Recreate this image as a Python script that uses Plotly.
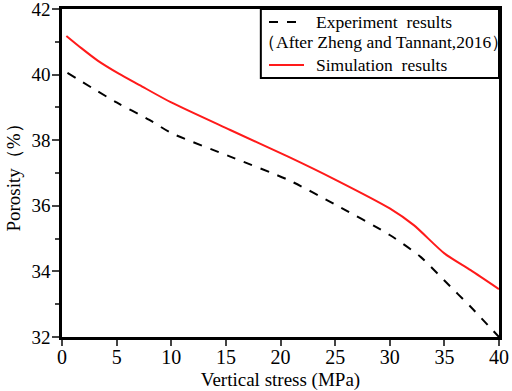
import plotly.graph_objects as go

# Experiment results (After Zheng and Tannant, 2016)
exp_stress = [0.5, 5, 8, 10, 15.4, 20.7, 25, 30, 32.8, 35, 37.4, 40]
exp_porosity = [40.05, 39.15, 38.62, 38.22, 37.5, 36.79, 36.04, 35.11, 34.45, 33.72, 32.92, 32.0]

# Simulation results
sim_stress = [0.4, 1.8, 3.3, 5.2, 7.1, 10, 15.4, 20.7, 25, 30, 32.2, 35, 37.4, 40]
sim_porosity = [41.18, 40.8, 40.42, 40.03, 39.68, 39.15, 38.31, 37.5, 36.8, 35.92, 35.41, 34.55, 34.04, 33.46]

x_ticks = [0, 5, 10, 15, 20, 25, 30, 35, 40]
y_ticks = [32, 34, 36, 38, 40, 42]

FONT = "Liberation Serif"

fig = go.Figure()
fig.add_trace(go.Scatter(x=exp_stress, y=exp_porosity, mode="lines",
                         line=dict(color="black", width=2, dash="dash", shape="spline", smoothing=0.7),
                         name="Experiment results", showlegend=False))
fig.add_trace(go.Scatter(x=sim_stress, y=sim_porosity, mode="lines",
                         line=dict(color="#ff1a1a", width=2, shape="spline", smoothing=0.7),
                         name="Simulation results", showlegend=False))

fig.update_layout(
    width=512, height=391,
    margin=dict(l=62, r=13, t=9, b=54),
    paper_bgcolor="white", plot_bgcolor="white",
    font=dict(family=FONT, size=19, color="black"),
    showlegend=False,
)
fig.update_xaxes(range=[0, 40], tickvals=x_ticks, ticks="outside", ticklen=6, tickwidth=2,
                 showline=True, linewidth=2.5, linecolor="black", mirror=True,
                 showgrid=False, zeroline=False, automargin=False,
                 ticklabelstandoff=-6, ticklabeloverflow="allow",
                 title=dict(text="Vertical stress (MPa)", font=dict(family=FONT, size=19), standoff=6),
                 tickfont=dict(family=FONT, size=20))
fig.update_yaxes(range=[32, 42], tickvals=y_ticks, ticks="outside", ticklen=7, tickwidth=2,
                 minor=dict(dtick=1, ticks="outside", ticklen=4, tickwidth=2, showgrid=False),
                 showline=True, linewidth=2.5, linecolor="black", mirror=True,
                 showgrid=False, zeroline=False, automargin=False,
                 ticklabelstandoff=-2, ticklabeloverflow="allow",
                 title=dict(text="Porosity（%）", font=dict(family=FONT, size=19), standoff=6),
                 tickfont=dict(family=FONT, size=19))

# Custom legend box
fig.add_shape(type="rect", xref="x domain", yref="y domain", x0=0.455, x1=1.0, y0=0.79, y1=1.0,
              line=dict(color="black", width=2), fillcolor="white", layer="above")
fig.add_shape(type="line", xref="paper", yref="paper", x0=(269-62)/437, x1=(304-62)/437,
              y0=1-(22-9)/328, y1=1-(22-9)/328, line=dict(color="black", width=2, dash="dash"))
fig.add_shape(type="line", xref="paper", yref="paper", x0=(269-62)/437, x1=(304-62)/437,
              y0=1-(65-9)/328, y1=1-(65-9)/328, line=dict(color="#ff1a1a", width=2))
fig.add_annotation(xref="paper", yref="paper", x=(314-62)/437, y=1-(22-9)/328, xanchor="left",
                   yanchor="middle", showarrow=False, text="Experiment  results",
                   font=dict(family=FONT, size=17.5))
fig.add_annotation(xref="paper", yref="paper", x=(256-62)/437, y=1-(42-9)/328, xanchor="left",
                   yanchor="middle", showarrow=False, text="（After Zheng and Tannant,2016）",
                   font=dict(family=FONT, size=17.5))
fig.add_annotation(xref="paper", yref="paper", x=(314-62)/437, y=1-(65-9)/328, xanchor="left",
                   yanchor="middle", showarrow=False, text="Simulation  results",
                   font=dict(family=FONT, size=17.5))

fig.write_html("out.html", config={"displayModeBar": False},
               post_script="document.body.style.margin='0';")
